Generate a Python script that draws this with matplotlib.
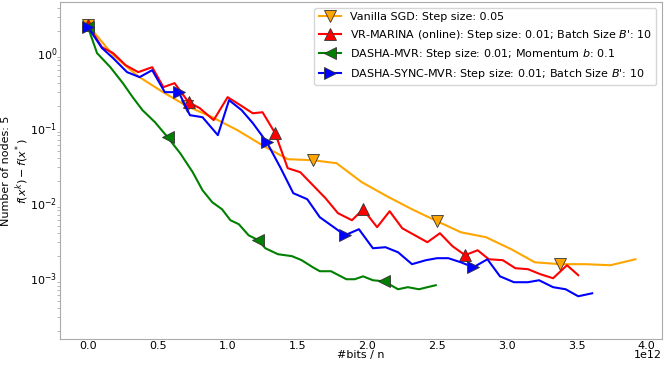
"""Convergence of f(x^k) - f(x^*) against communicated bits per node (5 nodes)."""

import matplotlib

matplotlib.use("Agg")

import matplotlib.pyplot as plt
import matplotlib.transforms as mtransforms
import numpy as np

# x values are in units of 1e12 bits / n
sgd_x = [0.0, 0.18, 0.36, 0.54, 0.71, 0.89, 1.07, 1.25, 1.43, 1.61, 1.78, 1.96,
         2.14, 2.32, 2.50, 2.67, 2.85, 3.03, 3.20, 3.38, 3.56, 3.74, 3.92]
sgd_y = [2.36, 0.94, 0.49, 0.30, 0.196, 0.140, 0.094, 0.059, 0.0386, 0.0374,
         0.0341, 0.0191, 0.0124, 0.0083, 0.00575, 0.0041, 0.00352, 0.00244,
         0.00163, 0.00154, 0.00154, 0.00149, 0.00179]
sgd_marks = [0, 4, 9, 14, 19]

marina_x = [0.0, 0.10, 0.18, 0.27, 0.36, 0.46, 0.54, 0.62, 0.72, 0.80, 0.90,
            1.00, 1.09, 1.18, 1.25, 1.34, 1.43, 1.52, 1.61, 1.70, 1.79, 1.89,
            1.97, 2.07, 2.16, 2.25, 2.34, 2.43, 2.52, 2.61, 2.70, 2.79, 2.87,
            2.97, 3.06, 3.15, 3.24, 3.33, 3.43, 3.51]
marina_y = [2.36, 1.20, 1.00, 0.69, 0.558, 0.65, 0.352, 0.398, 0.222, 0.185,
            0.128, 0.259, 0.203, 0.158, 0.163, 0.0858, 0.0293, 0.0259, 0.0174,
            0.0117, 0.00736, 0.00593, 0.0083, 0.00479, 0.00782, 0.00464,
            0.00374, 0.00302, 0.00398, 0.00267, 0.00203, 0.00236, 0.00179,
            0.00174, 0.00136, 0.00132, 0.00113, 0.00100, 0.00149, 0.00110]
marina_marks = [0, 8, 15, 22, 30]

mvr_x = [0.0, 0.065, 0.16, 0.25, 0.32, 0.39, 0.48, 0.57, 0.66, 0.75, 0.82,
         0.89, 0.96, 1.02, 1.08, 1.15, 1.22, 1.27, 1.36, 1.46, 1.53, 1.61,
         1.66, 1.74, 1.85, 1.91, 1.97, 2.04, 2.12, 2.22, 2.29, 2.37, 2.43,
         2.49]
mvr_y = [2.22, 1.00, 0.65, 0.398, 0.259, 0.174, 0.120, 0.0759, 0.0464,
         0.0259, 0.0149, 0.0103, 0.0083, 0.00593, 0.00525, 0.00374, 0.00321,
         0.00251, 0.00209, 0.00197, 0.00174, 0.0014, 0.00124, 0.00124,
         0.00097, 0.00097, 0.00106, 0.00094, 0.00091, 0.000713, 0.00076,
         0.000713, 0.00076, 0.000807]
mvr_marks = [0, 7, 16, 28]

sync_x = [0.0, 0.10, 0.18, 0.28, 0.37, 0.46, 0.55, 0.65, 0.73, 0.82, 0.93,
          1.01, 1.10, 1.18, 1.28, 1.38, 1.47, 1.57, 1.66, 1.76, 1.84, 1.94,
          2.04, 2.13, 2.22, 2.32, 2.42, 2.50, 2.58, 2.67, 2.76, 2.86, 2.95,
          3.05, 3.15, 3.23, 3.33, 3.42, 3.51, 3.61]
sync_y = [2.22, 1.17, 0.858, 0.558, 0.479, 0.593, 0.302, 0.302, 0.149, 0.140,
          0.0807, 0.236, 0.174, 0.117, 0.0651, 0.0293, 0.0136, 0.0113, 0.0065,
          0.00479, 0.00374, 0.0045, 0.00251, 0.00259, 0.00222, 0.00154,
          0.00174, 0.00185, 0.00185, 0.00163, 0.0014, 0.00179, 0.00106,
          0.000885, 0.000885, 0.00094, 0.00076, 0.000713, 0.000575, 0.00063]
sync_marks = [0, 7, 14, 20, 30]

series = [
    (sgd_x, sgd_y, sgd_marks, "orange", "v",
     "Vanilla SGD: Step size: 0.05"),
    (marina_x, marina_y, marina_marks, "red", "^",
     "VR-MARINA (online): Step size: 0.01; Batch Size $B$': 10"),
    (mvr_x, mvr_y, mvr_marks, "green", "<",
     "DASHA-MVR: Step size: 0.01; Momentum $b$: 0.1"),
    (sync_x, sync_y, sync_marks, "blue", ">",
     "DASHA-SYNC-MVR: Step size: 0.01; Batch Size $B$': 10"),
]

plt.rcParams["font.size"] = 8

fig = plt.figure(figsize=(6.64, 3.66), dpi=100)
ax = fig.add_axes([0.0904, 0.0738, 0.9066, 0.9207])

for xs, ys, marks, color, marker, label in series:
    ax.plot(np.array(xs) * 1e12, ys, color=color, lw=1.5, marker=marker,
            markevery=marks, markersize=8, markeredgecolor="#333333",
            markeredgewidth=0.6, label=label)

ax.set_yscale("log")
ax.set_xlim(-0.2e12, 4.11e12)
ax.set_ylim(1.55e-4, 4.8)
ax.set_xticks(np.arange(0, 4.01, 0.5) * 1e12)

for spine in ax.spines.values():
    spine.set_color("#aaaaaa")
ax.tick_params(which="major", length=0)
ax.tick_params(axis="x", which="major", pad=1.5)
ax.tick_params(axis="y", which="major", pad=2)
ax.tick_params(which="minor", length=2, color="#aaaaaa")

ax.set_xlabel("#bits / n", labelpad=-1)
ax.set_ylabel("Number of nodes: 5\n$f(x^k) - f(x^*)$")
ax.yaxis.set_label_coords(-0.048, 0.5)
ax.legend(loc="upper right", fontsize=8)

# lift the "1e12" offset label onto the same row as the x label
offset = ax.xaxis.get_offset_text()
offset.set_fontsize(8)
offset.set_transform(offset.get_transform()
                     + mtransforms.ScaledTranslation(0, 3.5 / 72, fig.dpi_scale_trans))

fig.savefig("out.png", dpi=100)
plt.close(fig)
